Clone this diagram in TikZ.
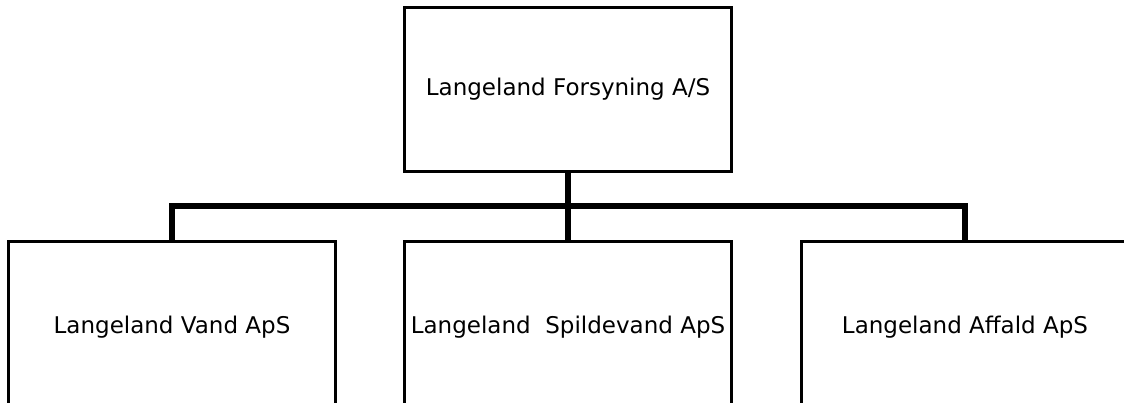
\documentclass[tikz,border=0pt]{standalone}
\usepackage{fontspec}
\setmainfont{DejaVu Sans}
\tikzset{
  enhed/.style={draw, line width=2.2pt, minimum width=327pt, minimum height=164pt,
    inner sep=0pt, font=\fontsize{23}{27}\selectfont},
  lav/.style={minimum height=171pt}
}
\begin{document}
\begin{tikzpicture}[x=1pt,y=-1pt]
      \useasboundingbox (0,0) rectangle (1124,403);
      \clip (0,0) rectangle (1124,403);
      \draw
        (568,89.5) node[enhed] (forsyning){Langeland Forsyning A/S}
        (172,327) node[enhed,lav] (vand){Langeland Vand ApS}
        (568,327) node[enhed,lav] (spildevand){Langeland\ \ Spildevand ApS}
        (965,327) node[enhed,lav] (affald){Langeland Affald ApS};
      \coordinate (knude) at (568,206);
      \begin{scope}[line width=5.5pt]
        \draw (forsyning) to (spildevand);
        \draw (vand.north) |- (knude) -| (affald.north);
      \end{scope}
\end{tikzpicture}
\end{document}
